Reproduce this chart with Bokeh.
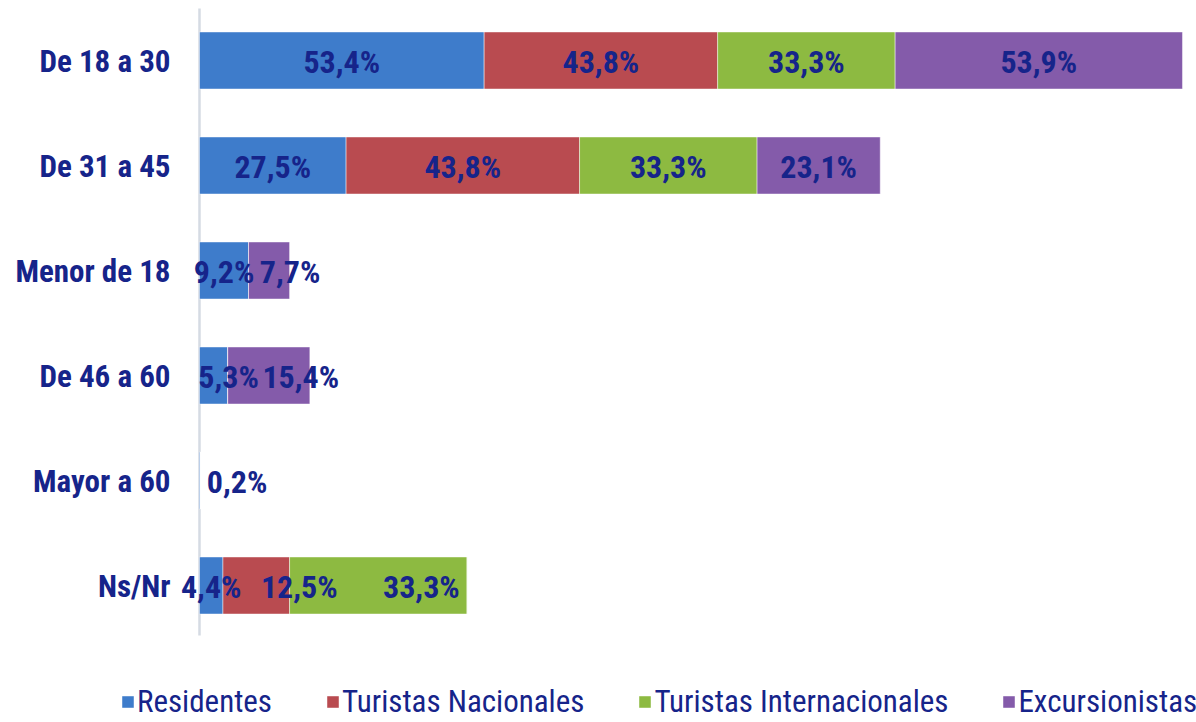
from bokeh.plotting import figure
from bokeh.models import ColumnDataSource, Range1d
from bokeh.core.properties import value
from bokeh.embed import file_html
from bokeh.resources import INLINE

categories = ["De 18 a 30", "De 31 a 45", "Menor de 18", "De 46 a 60", "Mayor a 60", "Ns/Nr"]
series = ["Residentes", "Turistas Nacionales", "Turistas Internacionales", "Excursionistas"]
residentes = [53.4, 27.5, 9.2, 5.3, 0.2, 4.4]
turistas_nacionales = [43.8, 43.8, 0.0, 0.0, 0.0, 12.5]
turistas_internacionales = [33.3, 33.3, 0.0, 0.0, 0.0, 33.3]
excursionistas = [53.9, 23.1, 7.7, 15.4, 0.0, 0.0]

colors = ["#3E7CCB", "#B94B50", "#8DBA41", "#845BAA"]
NAVY = "#16248A"
FONT = "Roboto Condensed"

# pixel nudges of data labels (Excel moved overlapping labels)
label_nudge = {
    ("Menor de 18", "Excursionistas"): 21,
    ("De 46 a 60", "Residentes"): 15,
    ("De 46 a 60", "Excursionistas"): 32,
    ("Mayor a 60", "Residentes"): 37,
    ("Ns/Nr", "Turistas Nacionales"): 43,
    ("Ns/Nr", "Turistas Internacionales"): 43,
}

values = [residentes, turistas_nacionales, turistas_internacionales, excursionistas]
pos = [len(categories) - 1 - i for i in range(len(categories))]

data = {"pos": pos, "cat": categories}
for name, vals in zip(series, values):
    data[name] = vals
source = ColumnDataSource(data)

p = figure(width=1196, height=722, x_range=Range1d(-37.33, 187.03), y_range=Range1d(-1.3048, 5.5714),
           toolbar_location=None, output_backend="svg",
           min_border_left=0, min_border_right=0, min_border_top=0, min_border_bottom=0)
p.outline_line_color = None
p.xgrid.visible = False
p.ygrid.visible = False
p.xaxis.visible = False
p.yaxis.visible = False

# value axis line
p.segment(x0=[0], x1=[0], y0=[-0.476], y1=[5.495], line_color="#D5DBE3", line_width=2.5)

p.hbar_stack(series, y="pos", height=0.543, color=colors, source=source,
             line_color="white", line_alpha=0.45, line_width=1,
             legend_label=series)

# category labels
p.text(x=0, y="pos", text="cat", source=source, x_offset=-29, y_offset=1,
       text_align="right", text_baseline="middle",
       text_font=value(FONT), text_font_style="bold", text_font_size="31px",
       text_color=NAVY)

# data labels
lx, ly, lt, lo = [], [], [], []
for i, cat in enumerate(categories):
    left = 0.0
    for name, vals in zip(series, values):
        v = vals[i]
        if v > 0:
            lx.append(left + v / 2.0)
            ly.append(pos[i])
            lt.append(f"{v:.1f}%".replace(".", ","))
            lo.append(label_nudge.get((cat, name), 0))
        left += v
lsrc = ColumnDataSource(dict(x=lx, y=ly, text=lt, xo=lo))
p.text(x="x", y="y", text="text", x_offset="xo", y_offset=2, source=lsrc,
       text_align="center", text_baseline="middle",
       text_font=value(FONT), text_font_style="bold", text_font_size="32px",
       text_color=NAVY)

lg = p.legend[0]
lg.orientation = "horizontal"
lg.location = (120, 2)
lg.padding = 0
lg.margin = 0
lg.spacing = 53
lg.border_line_color = None
lg.background_fill_alpha = 0
lg.glyph_width = 15
lg.glyph_height = 15
lg.label_standoff = 2
lg.label_height = 24
lg.label_text_font = FONT
lg.label_text_font_size = "31px"
lg.label_text_color = NAVY
lg.label_text_baseline = "middle"

open("out.html", "w").write(file_html(p, INLINE))
